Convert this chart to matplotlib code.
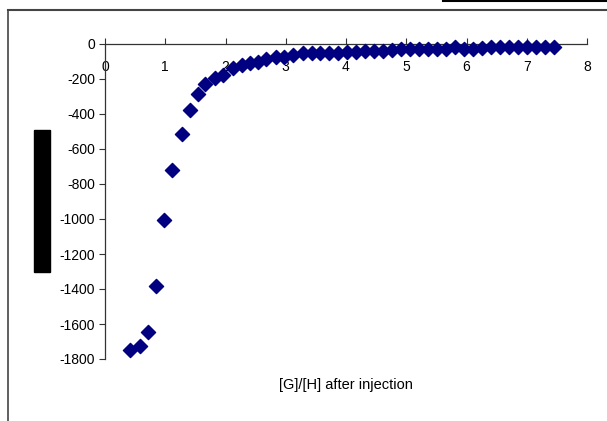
import matplotlib.pyplot as plt
from matplotlib.lines import Line2D
from matplotlib.patches import Rectangle

ratio = [0.41, 0.58, 0.72, 0.85, 0.98, 1.11, 1.28, 1.41, 1.54, 1.66,
         1.83, 1.96, 2.12, 2.27, 2.41, 2.54, 2.68, 2.83, 2.97, 3.12,
         3.28, 3.43, 3.57, 3.72, 3.87, 4.01, 4.16, 4.31, 4.46, 4.61,
         4.76, 4.91, 5.06, 5.21, 5.36, 5.51, 5.66, 5.81, 5.96, 6.11,
         6.26, 6.41, 6.56, 6.71, 6.86, 7.01, 7.16, 7.31, 7.46]
heat = [-1750, -1728, -1648, -1385, -1006, -722, -514, -377, -286, -229,
        -196, -177, -135, -120, -110, -101, -88, -76, -72, -63,
        -53, -53, -53, -53, -53, -44, -44, -42, -42, -40,
        -34, -30, -30, -30, -30, -30, -30, -20, -28, -30,
        -24, -17, -17, -17, -17, -17, -17, -17, -17]

x_ticks = [0, 1, 2, 3, 4, 5, 6, 7, 8]
y_ticks = [0, -200, -400, -600, -800, -1000, -1200, -1400, -1600, -1800]

plt.rcParams['font.family'] = ['Liberation Sans', 'DejaVu Sans']
plt.rcParams['axes.unicode_minus'] = False

fig = plt.figure(figsize=(6.07, 4.21), dpi=100)
ax = fig.add_axes([105 / 607, 1 - 359 / 421, 482 / 607, 315 / 421])

ax.scatter(ratio, heat, marker='D', s=52, color='#000080', zorder=3, clip_on=False)

ax.set_xlim(0, 8)
ax.set_ylim(-1800, 0)
ax.set_xticks(x_ticks)
ax.set_yticks(y_ticks)
ax.set_yticklabels([str(v) for v in y_ticks])

ax.spines['right'].set_visible(False)
ax.spines['top'].set_visible(False)
ax.spines['bottom'].set_position(('data', 0))
for side in ('left', 'bottom'):
    ax.spines[side].set_color('#333333')
    ax.spines[side].set_linewidth(0.9)

ax.tick_params(axis='x', direction='in', length=4, pad=11.5, labelsize=10, colors='#333333', labelcolor='black')
ax.tick_params(axis='y', direction='out', length=4, pad=3, labelsize=10, colors='#333333', labelcolor='black')

ax.set_xlabel('[G]/[H] after injection', fontsize=10.5)
ax.xaxis.set_label_coords(0.5, -26 / 315)
ax.xaxis.label.set_va('center')

# chart area frame and redacted axis title
fig.add_artist(Line2D([7.5 / 607, 1], [1 - 10 / 421, 1 - 10 / 421], color='#444444', lw=1.5))
fig.add_artist(Line2D([7.5 / 607, 7.5 / 607], [0, 1 - 10 / 421], color='#444444', lw=1.2))
fig.add_artist(Line2D([443 / 607, 1], [1 - 1 / 421, 1 - 1 / 421], color='black', lw=1.5))
fig.add_artist(Rectangle((34 / 607, 1 - 272 / 421), 16 / 607, 142 / 421, color='black'))

fig.savefig('out.png', dpi=100)
